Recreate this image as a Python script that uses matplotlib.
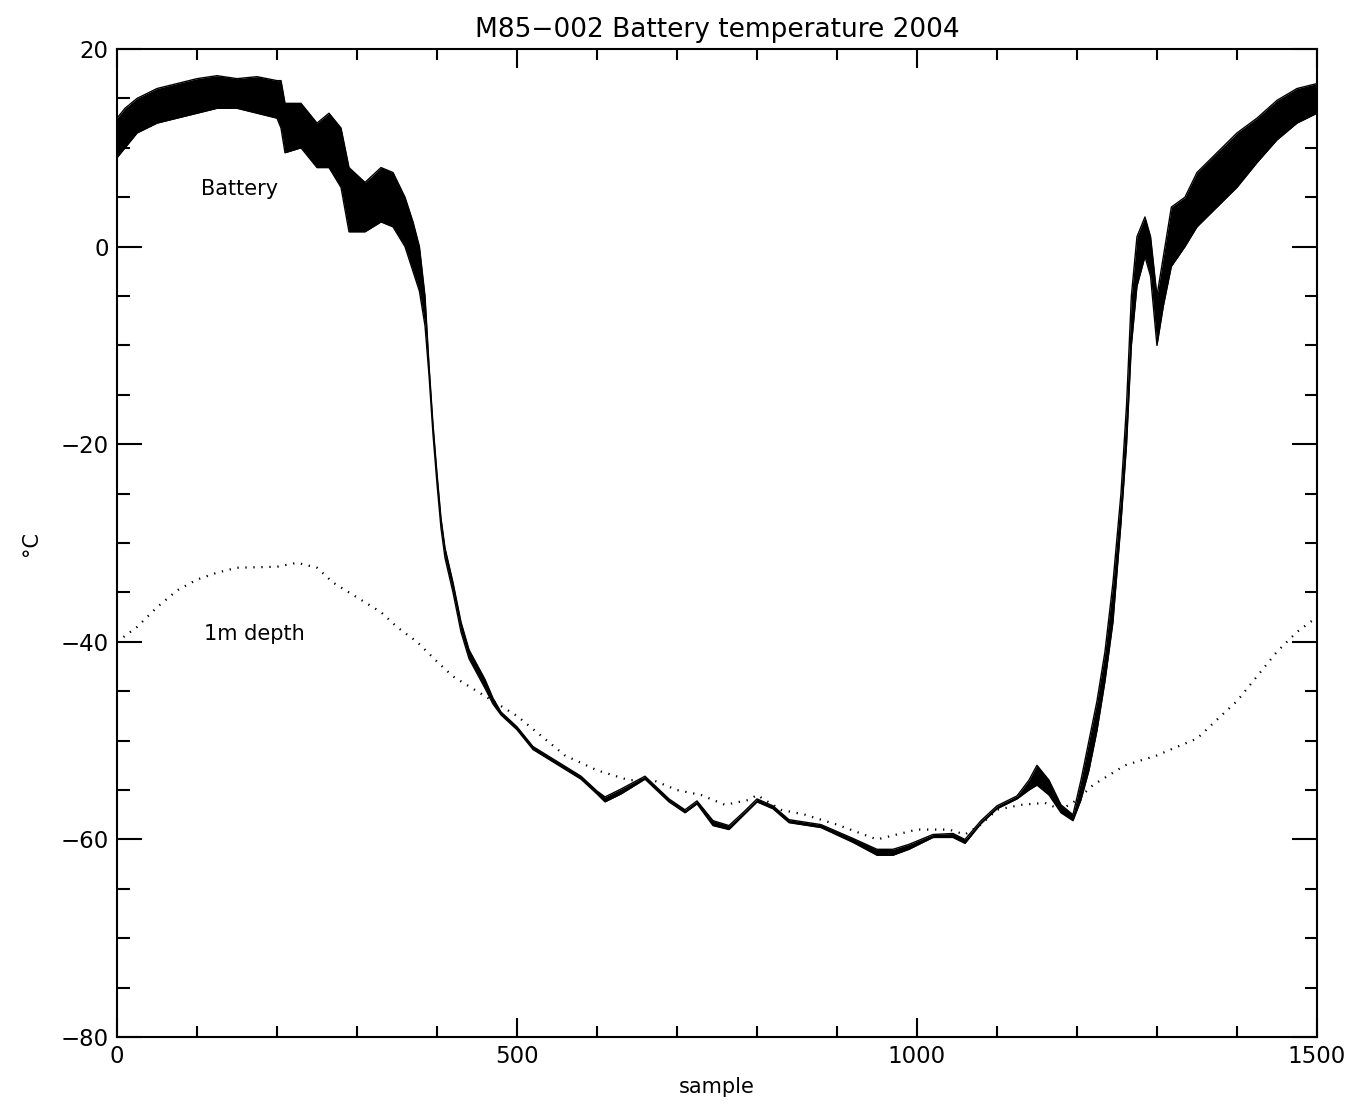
import numpy as np
import matplotlib
matplotlib.use("Agg")
import matplotlib.pyplot as plt
from matplotlib.ticker import MultipleLocator

# battery temperature: upper / lower envelope of the daily swing
bat_x = [0, 10, 25, 50, 75, 100, 125, 150, 175, 200, 205, 210, 230, 250, 265, 280,
         290, 310, 330, 345, 360, 370, 378, 385, 390, 395, 400, 405, 410, 420, 430,
         440, 450, 460, 470, 480, 500, 520, 550, 580, 600, 610, 630, 660, 690, 710,
         725, 745, 765, 785, 800, 820, 840, 880, 920, 950, 970, 990, 1020, 1045,
         1060, 1080, 1100, 1125, 1140, 1150, 1165, 1180, 1195, 1205, 1215, 1225,
         1235, 1245, 1255, 1262, 1268, 1275, 1285, 1292, 1300, 1308, 1318, 1335,
         1350, 1375, 1400, 1425, 1450, 1475, 1500]
bat_hi = [13, 14, 15, 16, 16.5, 17, 17.3, 17, 17.2, 16.8, 16.8, 14.5, 14.5, 12.5, 13.5, 12,
          8, 6.5, 8, 7.5, 5, 2.5, 0, -5, -12, -18, -23, -27.5, -30.5, -34, -38,
          -40.8, -42.3, -43.8, -45.7, -47.1, -48.6, -50.6, -52.1, -53.6, -55.1, -55.7, -54.9, -53.6, -55.9, -57,
          -56.1, -58.1, -58.6, -57.1, -55.9, -56.6, -58, -58.5, -59.9, -61, -61, -60.5, -59.5, -59.4,
          -60, -58.1, -56.6, -55.6, -54, -52.5, -54, -56.5, -57.5, -54, -50, -46,
          -41, -34, -25, -16, -5, 1, 3, 1, -5, -1, 4, 5,
          7.5, 9.5, 11.5, 13, 14.8, 16, 16.5]
bat_lo = [9, 10, 11.5, 12.5, 13, 13.5, 14, 14, 13.5, 13, 12, 9.5, 10, 8, 8, 6,
          1.5, 1.5, 2.5, 2, 0, -2.5, -4.5, -8, -13, -19, -24, -28.5, -31.5, -35, -39,
          -41.7, -43.2, -44.7, -46.3, -47.4, -48.9, -50.9, -52.4, -53.9, -55.4, -56.2, -55.4, -53.9, -56.2, -57.3,
          -56.4, -58.6, -59, -57.4, -56.2, -56.9, -58.3, -58.8, -60.3, -61.6, -61.6, -61, -59.8, -59.8,
          -60.4, -58.4, -56.9, -55.9, -55, -54.5, -55.5, -57.3, -58.1, -56, -53, -49,
          -44, -38, -28, -20, -10, -4, -1, -3, -10, -6, -2, 0,
          2, 4, 6, 8.5, 10.8, 12.5, 13.5]

# temperature at 1 m depth
depth_x = [0, 25, 50, 75, 100, 125, 150, 200, 225, 250, 270, 300, 330, 350, 375, 400,
           420, 440, 460, 480, 500, 530, 560, 600, 640, 670, 700, 730, 760, 790, 800,
           830, 860, 900, 950, 1000, 1040, 1060, 1080, 1100, 1130, 1160, 1180, 1200,
           1220, 1240, 1260, 1280, 1300, 1320, 1350, 1380, 1400, 1420, 1450, 1475, 1500]
depth_t = [-40, -38.5, -36.5, -34.8, -33.7, -33, -32.5, -32.4, -32, -32.5, -34, -35.5, -37, -38.5, -40, -42,
           -43.5, -44.5, -45.5, -46.5, -47.5, -49.5, -51.5, -53, -54, -54, -55, -55.5, -56.5, -56, -55.5,
           -57, -57.5, -58.5, -60, -59, -59, -59.5, -58.5, -57, -56.5, -56.3, -57, -56,
           -54.5, -53.5, -52.5, -52, -51.5, -50.8, -49.8, -47.5, -46, -44, -41, -39, -37.5]

fig = plt.figure(figsize=(13.56, 11.09), dpi=100)
ax = fig.add_axes([0.0863, 0.0649, 0.8849, 0.8909])

ax.fill_between(bat_x, bat_lo, bat_hi, color="black", lw=0)
ax.plot(bat_x, bat_hi, color="black", lw=1.0)
ax.plot(bat_x, bat_lo, color="black", lw=1.0)
ax.plot(depth_x, depth_t, color="black", lw=1.6, linestyle=(0, (0.6, 3.0)))

ax.text(153, 5.8, "Battery", fontsize=15, ha="center", va="center")
ax.text(172, -39.2, "1m depth", fontsize=15, ha="center", va="center")

ax.set_xlim(0, 1500)
ax.set_ylim(-80, 20)
ax.xaxis.set_major_locator(MultipleLocator(500))
ax.xaxis.set_minor_locator(MultipleLocator(100))
ax.yaxis.set_major_locator(MultipleLocator(20))
ax.yaxis.set_minor_locator(MultipleLocator(5))
ax.tick_params(which="both", direction="in", top=True, right=True, width=1.5,
               labelsize=16.5, pad=6)
ax.tick_params(axis="x", which="major", length=14)
ax.tick_params(axis="x", which="minor", length=8)
ax.tick_params(axis="y", which="major", length=18)
ax.tick_params(axis="y", which="minor", length=9)
for s in ax.spines.values():
    s.set_linewidth(1.5)

ax.set_title("M85\u2212002 Battery temperature 2004", fontsize=19, pad=9)
ax.set_xlabel("sample", fontsize=15, labelpad=6)
ax.set_ylabel("\u00b0C", fontsize=15, labelpad=14)

fig.savefig("out.png", dpi=100)
